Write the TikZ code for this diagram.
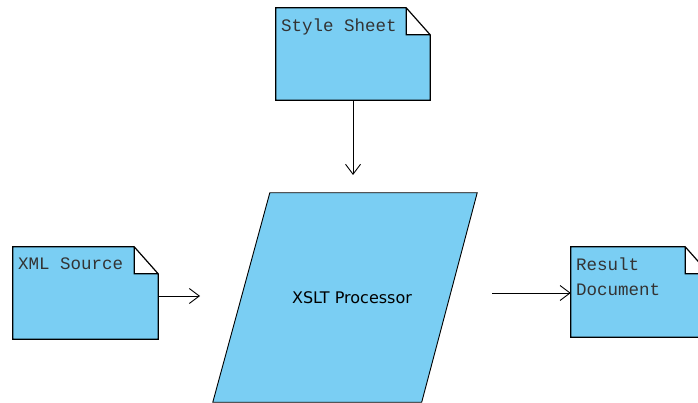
\documentclass[tikz,border=0pt]{standalone}
\usepackage{fontspec}
\setmainfont{DejaVu Sans}
\setmonofont{Liberation Mono}
\usetikzlibrary{arrows.meta,backgrounds}
\definecolor{docblue}{RGB}{122,206,243}
\tikzset{
  doc/.style={fill=docblue, inner sep=0pt, minimum height=92pt,
    path picture={\fill[white] ([xshift=-24pt]path picture bounding box.north east)
      rectangle ([yshift=-27pt]path picture bounding box.north east);}},
  doctext/.style={anchor=north west, inner xsep=5pt, inner ysep=11pt, align=left,
    font=\ttfamily\fontsize{17.5}{25}\selectfont, text=black!80},
  arr/.style={-{Straight Barb[length=10pt,width=15pt]}, line width=0.9pt},
}
\begin{document}
\begin{tikzpicture}[x=1pt,y=-1pt]
\useasboundingbox (0,0) rectangle (698,403);
% documents
\node[doc, minimum width=154pt, label={[doctext]north west:Style Sheet}] (sheet) at (353,54) {};
\node[doc, minimum width=145pt, label={[doctext]north west:XML Source}] (xml) at (85.5,293) {};
\node[doc, minimum width=138pt, minimum height=90pt, label={[doctext]north west:{Result\\Document}}] (result) at (640,292) {};
\foreach \d in {sheet,xml,result}
  \draw[line width=1.2pt] (\d.north west) -- ([xshift=-24pt]\d.north east) -- ([yshift=-27pt]\d.north east)
    -- (\d.south east) -- (\d.south west) -- cycle
    ([xshift=-24pt]\d.north east) -- ([xshift=-24pt,yshift=-27pt]\d.north east) -- ([yshift=-27pt]\d.north east);
% processor
\node[minimum width=207pt, minimum height=209pt, inner sep=0pt,
  font=\fontsize{16}{18}\selectfont] (proc) at (352,297.5) {XSLT Processor};
\begin{scope}[on background layer]
\draw[fill=docblue, line width=0.9pt] ([xshift=21.5pt]proc.north west) -- ([xshift=21.5pt]proc.north east)
  -- ([xshift=-34pt]proc.south east) -- ([xshift=-35.5pt]proc.south west) -- cycle;
\end{scope}
% connectors
\coordinate (sheetin) at (353,175);
\coordinate (xmlin) at (200,296);
\coordinate (resout) at (492,293);
\draw[arr] (sheet.south) -- (sheetin);
\draw[arr] (xmlin -| xml.east) -- (xmlin);
\draw[arr] (resout) -- (resout -| result.west);
\end{tikzpicture}
\end{document}
